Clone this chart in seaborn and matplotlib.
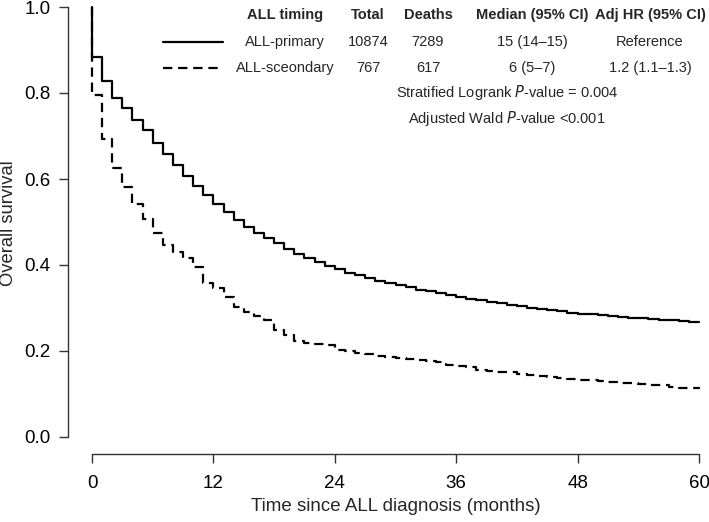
import matplotlib
matplotlib.use("Agg")
import matplotlib.pyplot as plt
from matplotlib.lines import Line2D
import numpy as np
import pandas as pd
import seaborn as sns

# Kaplan-Meier estimates (value after the step at each month)
months = list(range(0, 61))
surv_primary = [
    0.883, 0.827, 0.789, 0.764, 0.737, 0.713, 0.683, 0.658, 0.633, 0.607,
    0.584, 0.563, 0.542, 0.523, 0.504, 0.489, 0.475, 0.462, 0.450, 0.438,
    0.426, 0.416, 0.407, 0.398, 0.390, 0.382, 0.376, 0.369, 0.363, 0.358,
    0.353, 0.348, 0.343, 0.339, 0.334, 0.330, 0.326, 0.322, 0.318, 0.314,
    0.311, 0.307, 0.304, 0.301, 0.298, 0.295, 0.292, 0.289, 0.287, 0.285,
    0.283, 0.281, 0.279, 0.277, 0.276, 0.274, 0.272, 0.271, 0.269, 0.268,
    0.267,
]
surv_secondary = [
    0.795, 0.692, 0.626, 0.581, 0.542, 0.507, 0.474, 0.447, 0.431, 0.416,
    0.396, 0.357, 0.346, 0.326, 0.303, 0.290, 0.282, 0.272, 0.249, 0.237,
    0.224, 0.218, 0.216, 0.214, 0.202, 0.199, 0.196, 0.193, 0.188, 0.186,
    0.183, 0.181, 0.179, 0.177, 0.175, 0.167, 0.166, 0.162, 0.156, 0.154,
    0.152, 0.150, 0.147, 0.145, 0.143, 0.139, 0.137, 0.135, 0.133, 0.132,
    0.130, 0.128, 0.126, 0.125, 0.123, 0.121, 0.120, 0.117, 0.115, 0.113,
    0.111,
]
groups = ["ALL-primary", "ALL-sceondary"]

table_header = ["ALL timing", "Total", "Deaths", "Median (95% CI)", "Adj HR (95% CI)"]
table_rows = [
    ["ALL-primary", "10874", "7289", "15 (14\u201315)", "Reference"],
    ["ALL-sceondary", "767", "617", "6 (5\u20137)", "1.2 (1.1\u20131.3)"],
]
footnotes = [
    ("Stratified Logrank ", "P", "-value = 0.004"),
    ("Adjusted Wald ", "P", "-value <0.001"),
]

DASH = (4.2, 2.6)


def km_frame():
    frames = []
    for name, surv in zip(groups, [surv_primary, surv_secondary]):
        frames.append(pd.DataFrame({
            "time": [0] + months,
            "surv": [1.0] + surv,
            "group": name,
        }))
    df = pd.concat(frames, ignore_index=True)
    df["order"] = np.arange(len(df))
    return df


def main():
    sns.set_style("ticks")
    plt.rcParams["font.family"] = ["Liberation Sans", "DejaVu Sans"]

    W, H = 709, 522
    fig = plt.figure(figsize=(W / 100, H / 100), dpi=100)

    # plot region (pixels): x 0..60 -> 92..699, y 0..1 -> 437..7, R-style 4% padding
    px_month = (699 - 92) / 60
    px_unit = 437 - 7
    x0 = 92 - 2.4 * px_month
    x1 = 699 + 2.4 * px_month
    y_bot = 437 + 0.04 * px_unit
    y_top = 7 - 0.04 * px_unit
    ax = fig.add_axes([x0 / W, 1 - y_bot / H, (x1 - x0) / W, (y_bot - y_top) / H])

    df = km_frame()
    sns.lineplot(
        data=df, x="time", y="surv", style="group", units="group",
        estimator=None, sort=False, drawstyle="steps-post",
        dashes={"ALL-primary": "", "ALL-sceondary": DASH},
        color="black", linewidth=1.6, legend=False, ax=ax,
    )

    ax.set_xlim(-2.4, 62.4)
    ax.set_ylim(-0.04, 1.04)
    ax.set_xticks([0, 12, 24, 36, 48, 60])
    ax.set_yticks([0.0, 0.2, 0.4, 0.6, 0.8, 1.0])
    ax.set_yticklabels([f"{v:.1f}" for v in ax.get_yticks()])
    ax.spines["top"].set_visible(False)
    ax.spines["right"].set_visible(False)
    ax.spines["left"].set_bounds(0, 1)
    ax.spines["bottom"].set_bounds(0, 60)
    for s in ("left", "bottom"):
        ax.spines[s].set_color("#333333")
        ax.spines[s].set_linewidth(1.0)
    ax.tick_params(axis="both", length=6.5, width=1.0, color="#333333",
                   labelsize=13.5, labelcolor="black")
    ax.tick_params(axis="x", pad=8.5)
    ax.tick_params(axis="y", pad=6)
    ax.set_xlabel("Time since ALL diagnosis (months)", fontsize=13.5, labelpad=4)
    ax.set_ylabel("")

    def fx(px):
        return px / W

    def fy(py):
        return 1 - py / H

    fig.text(fx(0), fy(223), "Overall survival", rotation=90, ha="left",
             va="center", fontsize=13.2)

    # table-style legend
    col_x = [285, 368, 428, 532, 650]
    row_y = [15, 42, 68]
    for cx, txt in zip(col_x, table_header):
        fig.text(fx(cx), fy(row_y[0]), txt, ha="center", va="center",
                 fontsize=10.5, fontweight="bold")
    for ry, row in zip(row_y[1:], table_rows):
        for cx, txt in zip(col_x, row):
            fig.text(fx(cx), fy(ry), txt, ha="center", va="center", fontsize=10.5)

    fig.add_artist(Line2D([fx(163), fx(223)], [fy(42), fy(42)], color="black",
                          linewidth=1.6, transform=fig.transFigure))
    fig.add_artist(Line2D([fx(163), fx(223)], [fy(68), fy(68)], color="black",
                          linewidth=1.6, dashes=DASH, transform=fig.transFigure))

    for ry, (a, p, b) in zip([93, 118], footnotes):
        fig.text(fx(507), fy(ry), f"{a}$\\it{{{p}}}${b}", ha="center", va="center",
                 fontsize=10.5)

    fig.savefig("out.png", dpi=100)


if __name__ == "__main__":
    main()
